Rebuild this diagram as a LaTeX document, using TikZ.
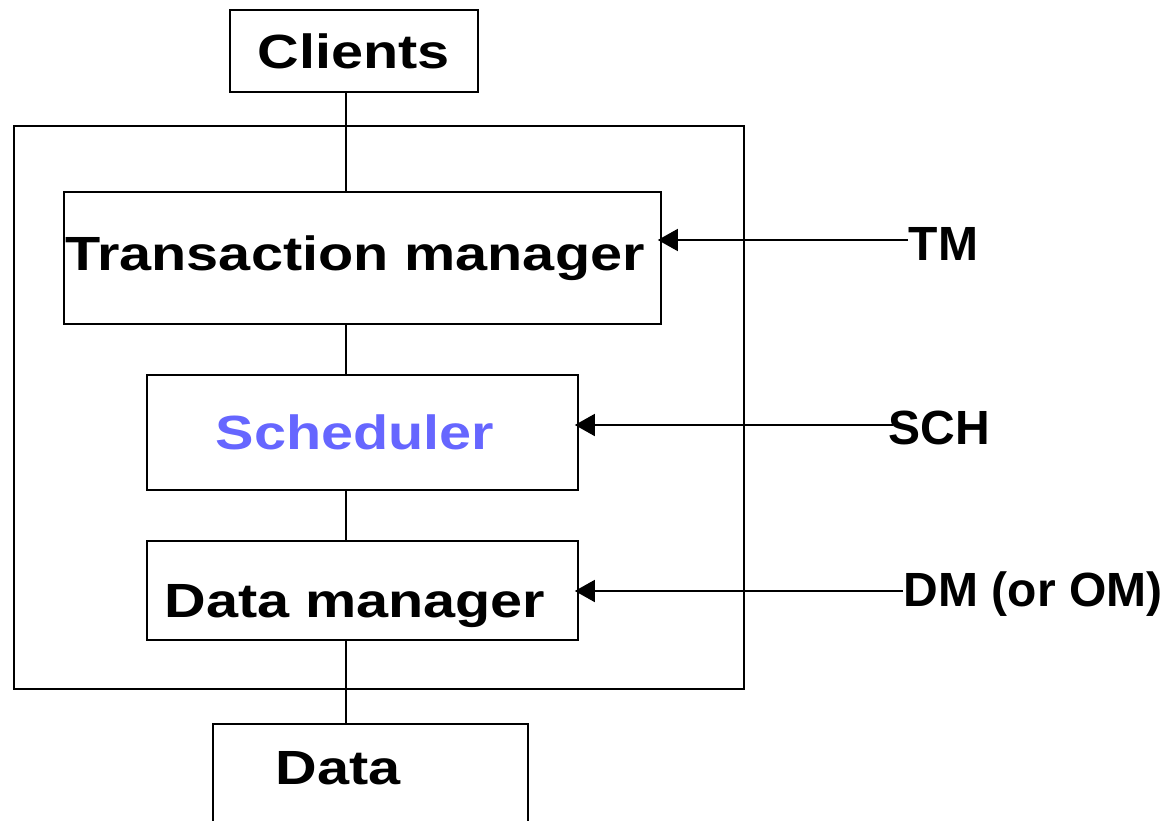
\documentclass[tikz,border=0pt]{standalone}
\usepackage{fontspec}
\setmainfont{Liberation Sans}
\newfontfamily\widefont[FakeStretch=1.2]{Liberation Sans}
\usetikzlibrary{arrows.meta,positioning}
\definecolor{schedcolor}{RGB}{102,102,255}

\begin{document}
\begin{tikzpicture}[
	x=1pt, y=-1pt,
	line width=1.6pt,
	btext/.style={
		font=\widefont\fontsize{48}{52}\selectfont\bfseries
	},
	box/.style={
		rectangle,
		draw,
		inner sep=0pt,
		btext
	},
	tag/.style={
		inner sep=0pt,
		anchor=west,
		font=\fontsize{48}{52}\selectfont\bfseries
	},
	line/.style={
		draw,
		-{Triangle[length=20pt,width=22pt]},
		shorten >=-4pt
	}
	]
	\clip (0,0) rectangle (1173,821);

	% Outer frame
	\node[draw, minimum width=730, minimum height=563] (sys) at (379,407.5) {};

	% Clients Block
	\node[box, minimum width=248, minimum height=82] (clients) at (354,51) {Clients};

	% Manager Blocks
	\node[box, minimum width=597, minimum height=132] (tm) at (362.5,258)
		{\makebox[0pt]{Transaction manager\hspace*{15pt}}};
	\node[box, minimum width=431, minimum height=115, text=schedcolor] (sch) at (362.5,432.5)
		{\makebox[0pt]{Scheduler\hspace*{15pt}}};
	\node[box, minimum width=431, minimum height=99, text height=63pt, text depth=10pt] (dm) at (362.5,590.5)
		{\makebox[0pt]{Data manager\hspace*{15pt}}};

	% Data Block
	\node[box, minimum width=315, minimum height=140, anchor=north,
		label={[btext, xshift=-32.5pt, yshift=26pt]center:Data}] (data) at (370.5,723) {};

	% Spine
	\coordinate (spine) at (346,0);
	\draw (clients.south -| spine) -- (tm.north -| spine);
	\draw (tm.south -| spine) -- (sch.north -| spine);
	\draw (sch.south -| spine) -- (dm.north -| spine);
	\draw (dm.south -| spine) -- (data.north -| spine);

	% Tags
	\node[tag] (tm-tag) at (908,244) {TM};
	\node[tag] (sch-tag) at (888,428) {SCH};
	\node[tag] (dm-tag) at (903,594) {DM (or OM)};

	% Tag Arrows
	\path[line] ([yshift=4pt]tm-tag.west) -- ([yshift=4pt]tm-tag.west -| tm.east);
	\path[line] ([xshift=5pt,yshift=3pt]sch-tag.west) -- ([yshift=3pt]sch-tag.west -| sch.east);
	\path[line] ([yshift=3pt]dm-tag.west) -- ([yshift=3pt]dm-tag.west -| dm.east);

\end{tikzpicture}
\end{document}
